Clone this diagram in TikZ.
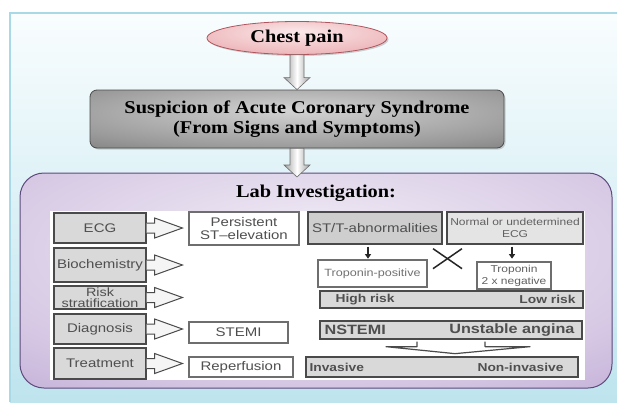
\documentclass[tikz,border=0pt]{standalone}
\usepackage{fontspec}
\setmainfont{Liberation Serif}[FakeStretch=1.13]
\setsansfont{Liberation Sans}[FakeStretch=1.2]
\usetikzlibrary{calc,shapes.geometric,arrows.meta,shadows}
\definecolor{bgtop}{HTML}{F9FDFE}
\definecolor{bgbot}{HTML}{BEE4EE}
\definecolor{bgline}{HTML}{A9D9E7}
\definecolor{purpin}{HTML}{F1ECF5}
\definecolor{purpmid}{HTML}{D6C8E4}
\definecolor{purpout}{HTML}{A688C3}
\definecolor{purpline}{HTML}{5E4A7C}
\definecolor{graysin}{HTML}{D4D4D4}
\definecolor{graysmid}{HTML}{9A9A9A}
\definecolor{graysout}{HTML}{606060}
\definecolor{pinkin}{HTML}{FBE9EA}
\definecolor{pinkmid}{HTML}{EDB7BB}
\definecolor{pinkout}{HTML}{D47F86}
\definecolor{pinkline}{HTML}{B0555D}
\definecolor{txtgray}{HTML}{4F4F4F}
\definecolor{boxgray}{HTML}{D9D9D9}
\definecolor{boxline}{HTML}{4A4A4A}
\definecolor{lightbox}{HTML}{E4E4E4}
\pgfdeclareradialshading{purpshade}{\pgfpoint{0bp}{10bp}}{color(0bp)=(purpin); color(30bp)=(purpmid); color(60bp)=(purpout); color(80bp)=(purpout)}
\pgfdeclareradialshading{grayshade}{\pgfpoint{0bp}{8bp}}{color(0bp)=(graysin); color(30bp)=(graysmid); color(55bp)=(graysout); color(80bp)=(graysout)}
\pgfdeclareradialshading{pinkshade}{\pgfpoint{0bp}{10bp}}{color(0bp)=(pinkin); color(30bp)=(pinkmid); color(55bp)=(pinkout); color(80bp)=(pinkout)}
\newcommand\titlefnt{\rmfamily\bfseries\fontsize{18}{20}\selectfont}
\newcommand\sfsz[1]{\sffamily\fontsize{#1}{#1}\selectfont}
\newcommand\grayarrow[2]{%
  \shadedraw[garrow] ($(#1)+(-7,0)$) -- ($(#2)+(-7,-12)$) -- ($(#2)+(-13,-12)$) -- (#2)
    -- ($(#2)+(13,-12)$) -- ($(#2)+(7,-12)$) -- ($(#1)+(7,0)$) -- cycle;}
\newcommand\sidearrow[2]{%
  \filldraw[larrow] ($(#1)+(0,-5)$) -- ($(#1)+(8,-5)$) -- ($(#1)+(8,-10)$) -- (#2)
    -- ($(#1)+(8,10)$) -- ($(#1)+(8,5)$) -- ($(#1)+(0,5)$);}
\begin{document}
\begin{tikzpicture}[x=1pt,y=-1pt,
  garrow/.style={left color=gray!75, right color=gray!75, middle color=white, draw=gray!85!black, line width=0.6pt},
  larrow/.style={fill=white!92!gray, draw=boxline, line width=1pt, line join=miter},
  graybox/.style={rectangle, fill=boxgray, draw=boxline, line width=1.3pt, inner sep=0pt, text=txtgray, align=center, font=\sfsz{12.5}},
  whitebox/.style={rectangle, fill=white, draw=boxline!80, line width=1.1pt, inner sep=0pt, text=txtgray, align=center, font=\sfsz{12.5}},
  bartext/.style={inner sep=0pt, text=txtgray, font=\sffamily\bfseries\fontsize{11.5}{12}\selectfont},
  smallarr/.style={line width=1.6pt, draw=black!85, -{Triangle[length=4.5pt,width=6pt]}},
  crossline/.style={line width=1.5pt, draw=black!85},
  mergeline/.style={line width=1.2pt, draw=boxline}]
\useasboundingbox (0,0) rectangle (617,402);
\fill[white] (0,0) rectangle (617,402);
\shade[top color=bgtop, bottom color=bgbot] (10,13) rectangle (617,402);
\draw[bgline, line width=1.5pt] (617,13) -- (10,13) -- (10,402);
% purple lab box
\shadedraw[shading=purpshade, draw=purpline, line width=1pt, rounded corners=24] (20,173) rectangle (612,388);
\fill[white] (50,211) rectangle (585,380);
% top flow
\node[ellipse, minimum width=180, minimum height=33, inner sep=0pt, shade, shading=pinkshade, draw=pinkline, line width=0.8pt,
  drop shadow={shadow xshift=1.5pt, shadow yshift=-1.5pt, opacity=0.35}, font=\titlefnt] (cp) at (297,38) {Chest pain};
\node[rectangle, rounded corners=7, minimum width=414, minimum height=58, inner sep=0pt, shade, shading=grayshade, draw=black!70, line width=0.8pt,
  drop shadow={shadow xshift=1.5pt, shadow yshift=-1.5pt, opacity=0.35}, align=center, font=\titlefnt] (sus) at (297,119)
  {Suspicion of Acute Coronary Syndrome\\(From Signs and Symptoms)};
\coordinate (labin) at (297,177);
\grayarrow{cp.south}{sus.north}
\grayarrow{sus.south}{labin}
\node[font=\titlefnt, inner sep=0pt] (lab) at (316,193) {Lab Investigation:};
% left column
\node[graybox, minimum width=92, minimum height=30] (ecg) at (100,228) {ECG};
\node[graybox, minimum width=92, minimum height=34] (bio) at (100,265) {Biochemistry};
\node[graybox, minimum width=92, minimum height=23, font=\sffamily\fontsize{12}{11.5}\selectfont] (risk) at (100,297.5) {Risk\\stratification};
\node[graybox, minimum width=92, minimum height=30] (diag) at (100,329) {Diagnosis};
\node[graybox, minimum width=92, minimum height=31] (treat) at (100,363.5) {Treatment};
% STEMI column
\node[whitebox, minimum width=110, minimum height=33, font=\sffamily\fontsize{12.5}{13}\selectfont] (pse) at (244,228.5) {Persistent\\ST--elevation};
\node[whitebox, minimum width=99, minimum height=21] (stemi) at (238.5,332.5) {STEMI};
\node[whitebox, minimum width=104, minimum height=20] (rep) at (241,367) {Reperfusion};
% side arrows
\coordinate (e1) at ($(ecg.east -| pse.west)+(-6,0)$);
\coordinate (e2) at ($(bio.east -| pse.west)+(-6,0)$);
\coordinate (e3) at ($(risk.east -| pse.west)+(-6,0)$);
\coordinate (e4) at ($(diag.east -| pse.west)+(-6,0)$);
\coordinate (e5) at ($(treat.east -| pse.west)+(-6,0)$);
\sidearrow{ecg.east}{e1}
\sidearrow{bio.east}{e2}
\sidearrow{risk.east}{e3}
\sidearrow{diag.east}{e4}
\sidearrow{treat.east}{e5}
% NSTE column
\node[graybox, fill=boxgray!95!black, minimum width=134, minimum height=32] (stt) at (375,228) {ST/T-abnormalities};
\node[graybox, fill=lightbox, minimum width=136, minimum height=32, font=\sffamily\fontsize{10}{11.5}\selectfont, text=txtgray!90] (normal) at (515,228) {Normal or undetermined\\ECG};
\node[whitebox, minimum width=109, minimum height=27, font=\sfsz{10.5}, text=txtgray!80] (tpos) at (372.5,273.5) {Troponin-positive};
\node[whitebox, minimum width=74, minimum height=27, font=\sffamily\fontsize{10}{12}\selectfont, text=txtgray!90] (tneg) at (514,275.5) {Troponin\\2 x negative};
\draw[smallarr] ($(stt.south)+(-7,2)$) -- ($(stt.south)+(-7,14)$);
\draw[smallarr] ($(normal.south)+(-3,2)$) -- ($(normal.south)+(-3,14)$);
\coordinate (xc) at ($(stt.south east)!0.5!(normal.south west)$);
\draw[crossline] ($(xc)+(-11.5,4)$) -- ($(xc)+(17.5,24)$);
\draw[crossline] ($(xc)+(-11.5,24)$) -- ($(xc)+(17.5,4)$);
\node[graybox, minimum width=263, minimum height=17] (rbar) at (451.5,299.5) {};
\node[bartext, anchor=west] (hr) at ($(rbar.west)+(16,0)$) {High risk};
\node[bartext, anchor=east] (lr) at ($(rbar.east)+(-8,0)$) {Low risk};
\node[graybox, minimum width=262, minimum height=18] (nbar) at (451,330) {};
\node[bartext, anchor=west, font=\sffamily\bfseries\fontsize{13.5}{14}\selectfont] (nst) at ($(nbar.west)+(5,0)$) {NSTEMI};
\node[bartext, anchor=east, font=\sffamily\bfseries\fontsize{13.5}{14}\selectfont] (ua) at ($(nbar.east)+(-8,0)$) {Unstable angina};
\node[graybox, minimum width=272, minimum height=20] (ibar) at (442,367) {};
\node[bartext, anchor=west] (inv) at ($(ibar.west)+(4,0)$) {Invasive};
\node[bartext, anchor=east] (ninv) at ($(ibar.east)+(-15,0)$) {Non-invasive};
% merge arrow
\draw[mergeline, line join=round] ($(nbar.south)+(-34,2)$) -- ($(nbar.south)+(-34,7)$) -- ($(nbar.south)+(-65,7)$)
  -- ($(nbar.south)+(4,14)$) -- ($(nbar.south)+(79,7)$) -- ($(nbar.south)+(34,7)$) -- ($(nbar.south)+(34,2)$);
\end{tikzpicture}
\end{document}
